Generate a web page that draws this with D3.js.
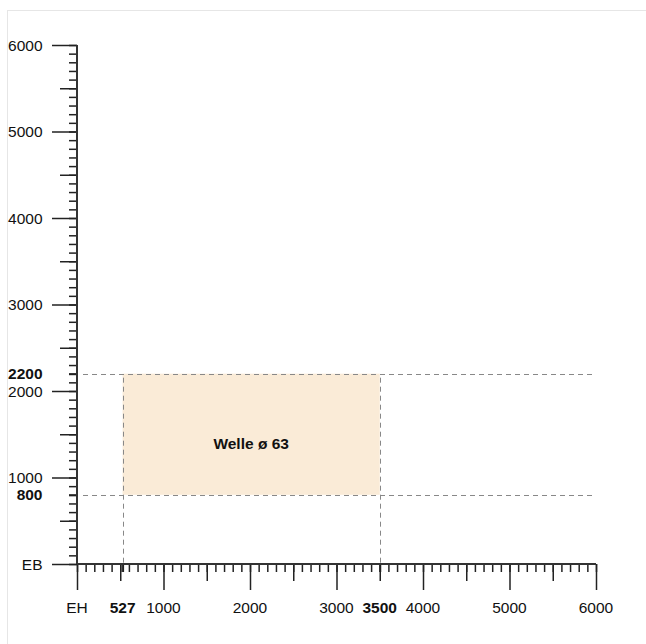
<!DOCTYPE html>
<html><head><meta charset="utf-8">
<script src="https://cdn.jsdelivr.net/npm/d3@7"></script>
<style>
html,body{margin:0;padding:0;background:#fff;}
svg text{font-family:"Liberation Sans",Arial,Helvetica,sans-serif;}
</style></head>
<body><svg id="c" width="646" height="644"></svg>
<script>
// ---- data ----
const xMajorTicks = [0, 1000, 2000, 3000, 4000, 5000, 6000];
const xMajorLabels = ["EH", "1000", "2000", "3000", "4000", "5000", "6000"];
const yMajorTicks = [0, 1000, 2000, 3000, 4000, 5000, 6000];
const yMajorLabels = ["EB", "1000", "2000", "3000", "4000", "5000", "6000"];
const rangeX = [527, 3500];     // Welle range on x
const rangeY = [800, 2200];     // Welle range on y
const rangeXLabels = ["527", "3500"];
const rangeYLabels = ["800", "2200"];
const areaLabel = "Welle ø 63";
const domainMax = 6000;

// ---- layout ----
const svg = d3.select("#c");
const fs = 15.5;
const mLeft = 77, mRight = 596, mTop = 45, mBottom = 564;
const x = d3.scaleLinear().domain([0, domainMax]).range([mLeft, mRight]);
const y = d3.scaleLinear().domain([0, domainMax]).range([mBottom, mTop]);

// frame
svg.append("rect").attr("x", 7.5).attr("y", 10.5).attr("width", 700).attr("height", 700)
  .attr("fill", "none").attr("stroke", "#e6e6e6").attr("stroke-width", 1);

// shaded area
svg.append("rect")
  .attr("x", x(rangeX[0])).attr("y", y(rangeY[1]))
  .attr("width", x(rangeX[1]) - x(rangeX[0]))
  .attr("height", y(rangeY[0]) - y(rangeY[1]))
  .attr("fill", "#faebd7");

svg.append("text")
  .attr("x", (x(rangeX[0]) + x(rangeX[1])) / 2)
  .attr("y", (y(rangeY[0]) + y(rangeY[1])) / 2 + 15)
  .attr("text-anchor", "middle").attr("font-weight", "bold")
  .attr("font-size", fs).attr("fill", "#111").text(areaLabel);

// dashed guide lines
const dash = svg.append("g").attr("stroke", "#888").attr("stroke-width", 1)
  .attr("stroke-dasharray", "5,4").attr("fill", "none");
rangeY.forEach(v => dash.append("line")
  .attr("x1", x(0) + 6).attr("x2", x(domainMax)).attr("y1", Math.round(y(v)) + 0.5).attr("y2", Math.round(y(v)) + 0.5));
rangeX.forEach(v => dash.append("line")
  .attr("x1", Math.round(x(v)) + 0.5).attr("x2", Math.round(x(v)) + 0.5).attr("y1", y(rangeY[1]) + 4).attr("y2", y(0)));

// axes helper
function styleAxis(g, w) {
  g.selectAll("line").attr("stroke", "#222").attr("stroke-width", w);
  g.selectAll("path").remove();
  g.selectAll("text").remove();
}
const minor = d3.range(0, domainMax + 1, 100);
const half = d3.range(500, domainMax, 1000);

// Y axis
[[minor, 8, 1.5], [half, 17, 1.5], [yMajorTicks, 25, 1.5], [rangeY, 8, 2]].forEach(([vals, sz, w]) => {
  const g = svg.append("g").attr("transform", `translate(${mLeft},0)`)
    .call(d3.axisLeft(y).tickValues(vals).tickSize(sz).tickFormat(""));
  styleAxis(g, w);
});
// X axis
[[minor, 8, 1.5], [half, 17, 1.5], [xMajorTicks, 26, 1.5], [rangeX, 8, 2]].forEach(([vals, sz, w]) => {
  const g = svg.append("g").attr("transform", `translate(0,${mBottom})`)
    .call(d3.axisBottom(x).tickValues(vals).tickSize(sz).tickFormat(""));
  styleAxis(g, w);
});
// axis lines
svg.append("line").attr("x1", mLeft).attr("x2", mLeft).attr("y1", mTop).attr("y2", mBottom)
  .attr("stroke", "#333").attr("stroke-width", 2);
svg.append("line").attr("x1", mLeft).attr("x2", mRight).attr("y1", mBottom).attr("y2", mBottom)
  .attr("stroke", "#333").attr("stroke-width", 2);

// Y labels
const yl = svg.append("g").attr("font-size", fs).attr("text-anchor", "end").attr("fill", "#111");
yMajorTicks.forEach((v, i) => yl.append("text").attr("x", 42.5).attr("y", y(v)).attr("dy", "0.36em").text(yMajorLabels[i]));
rangeY.forEach((v, i) => yl.append("text").attr("x", 42.5).attr("y", y(v)).attr("dy", "0.36em")
  .attr("font-weight", "bold").text(rangeYLabels[i]));

// X labels
const xl = svg.append("g").attr("font-size", fs).attr("text-anchor", "middle").attr("fill", "#111");
xMajorTicks.forEach((v, i) => xl.append("text").attr("x", x(v)).attr("y", 612.5).text(xMajorLabels[i]));
rangeX.forEach((v, i) => xl.append("text").attr("x", x(v)).attr("y", 612.5)
  .attr("font-weight", "bold").text(rangeXLabels[i]));
</script></body></html>
